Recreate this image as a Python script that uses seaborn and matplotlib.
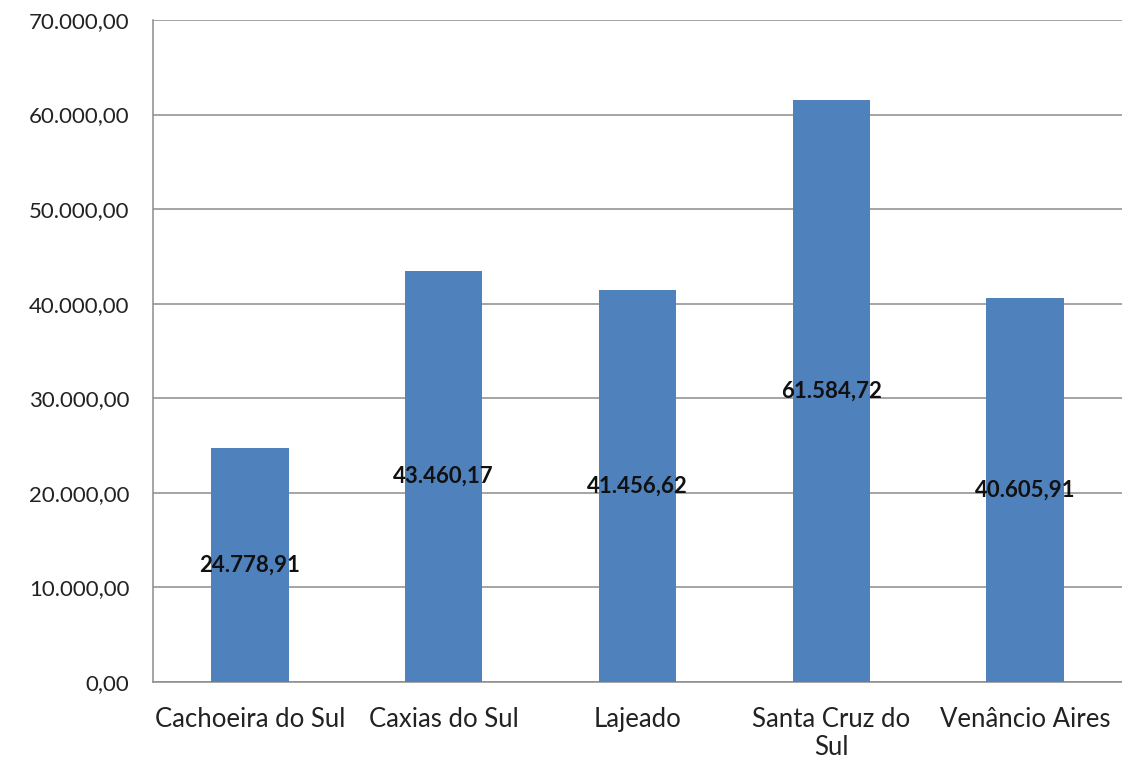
import matplotlib
matplotlib.use("Agg")
import matplotlib.pyplot as plt
import seaborn as sns
import pandas as pd

cidades = ["Cachoeira do Sul", "Caxias do Sul", "Lajeado", "Santa Cruz do\nSul", "Venâncio Aires"]
valores = [24778.91, 43460.17, 41456.62, 61584.72, 40605.91]
y_ticks = [0, 10000, 20000, 30000, 40000, 50000, 60000, 70000]


def br(v):
    s = f"{v:,.2f}"
    return s.replace(",", "X").replace(".", ",").replace("X", ".")


df = pd.DataFrame({"cidade": cidades, "valor": valores})

sns.set_style("white")
plt.rcParams["font.family"] = ["Lato", "DejaVu Sans"]

fig = plt.figure(figsize=(11.22, 7.67), dpi=100)
ax = fig.add_axes([153 / 1122, 1 - 682 / 767, (1122 - 153) / 1122, (682 - 20) / 767])

sns.barplot(data=df, x="cidade", y="valor", color="#4F81BD", width=0.4,
            saturation=1, edgecolor="none", linewidth=0, ax=ax, zorder=3)

ax.set_ylim(0, 70000)
ax.set_xlim(-0.5, 4.465)
ax.set_yticks(y_ticks)
ax.set_yticklabels([br(t) for t in y_ticks], fontsize=16, color="#222222")
ax.yaxis.grid(True, color="#8c8c8c", linewidth=1.1, zorder=0)
ax.set_axisbelow(True)

ax.set_xticks([i + 0.5 for i in range(-1, 5)], minor=False)
ax.set_xticklabels([])
ax.set_xticks(range(len(cidades)), minor=True)
ax.set_xticklabels(cidades, minor=True, fontsize=18.5, color="#222222", linespacing=1.15)
ax.tick_params(axis="x", which="major", length=9, width=1, color="#8c8c8c", direction="out")
ax.tick_params(axis="x", which="minor", length=0, pad=18)
ax.tick_params(axis="y", length=10, width=1, color="#8c8c8c", direction="out", pad=7)

ax.set_xlabel("")
ax.set_ylabel("")
for side in ["top", "right"]:
    ax.spines[side].set_visible(False)
for side in ["left", "bottom"]:
    ax.spines[side].set_color("#8c8c8c")
    ax.spines[side].set_linewidth(1.1)

for i, v in enumerate(valores):
    ax.text(i, v / 2, br(v), ha="center", va="center", fontsize=16,
            fontweight="bold", color="#111111", zorder=4)

fig.savefig("out.png", dpi=100)
